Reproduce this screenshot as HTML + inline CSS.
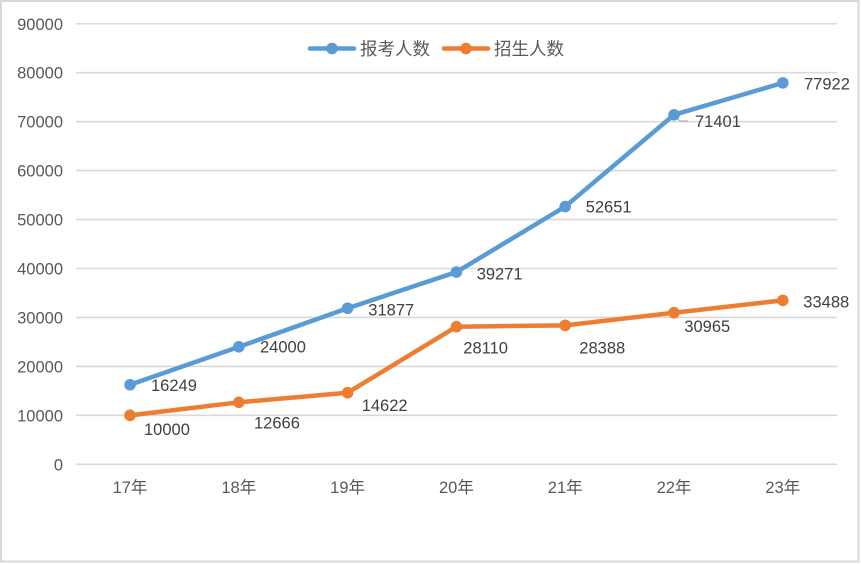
<!DOCTYPE html>
<html><head><meta charset="utf-8"><style>
html,body{margin:0;padding:0;background:#fff;}
svg{display:block;}
text{font-family:"Liberation Sans","Noto Sans CJK SC",sans-serif;}
</style></head><body>
<svg width="861" height="564" viewBox="0 0 861 564" xmlns="http://www.w3.org/2000/svg">
<rect x="0" y="0" width="861" height="564" fill="#fff"/>
<rect x="1" y="1" width="857.5" height="560.5" fill="none" stroke="#d9d9d9" stroke-width="2"/>
<g stroke="#d9d9d9" stroke-width="1.6">
<line x1="76" x2="837" y1="464.3" y2="464.3"/>
<line x1="76" x2="837" y1="415.35" y2="415.35"/>
<line x1="76" x2="837" y1="366.4" y2="366.4"/>
<line x1="76" x2="837" y1="317.45" y2="317.45"/>
<line x1="76" x2="837" y1="268.5" y2="268.5"/>
<line x1="76" x2="837" y1="219.55" y2="219.55"/>
<line x1="76" x2="837" y1="170.6" y2="170.6"/>
<line x1="76" x2="837" y1="121.65" y2="121.65"/>
<line x1="76" x2="837" y1="72.7" y2="72.7"/>
<line x1="76" x2="837" y1="23.75" y2="23.75"/>
</g>
<g fill="#595959" font-size="16.5" text-anchor="end">
<text x="63" y="470.3">0</text>
<text x="63" y="421.35">10000</text>
<text x="63" y="372.4">20000</text>
<text x="63" y="323.45">30000</text>
<text x="63" y="274.5">40000</text>
<text x="63" y="225.55">50000</text>
<text x="63" y="176.6">60000</text>
<text x="63" y="127.65">70000</text>
<text x="63" y="78.7">80000</text>
<text x="63" y="29.75">90000</text>
</g>
<g fill="#595959" font-size="16.5" text-anchor="middle">
<text x="130" y="493">17年</text>
<text x="238.8" y="493">18年</text>
<text x="347.6" y="493">19年</text>
<text x="456.4" y="493">20年</text>
<text x="565.2" y="493">21年</text>
<text x="674" y="493">22年</text>
<text x="782.8" y="493">23年</text>
</g>
<!-- legend -->
<line x1="310" y1="48.5" x2="354" y2="48.5" stroke="#5B9BD5" stroke-width="4.5" stroke-linecap="round"/>
<circle cx="332" cy="48.5" r="5.8" fill="#5B9BD5"/>
<text x="360" y="55" font-size="17.5" fill="#595959">报考人数</text>
<line x1="444" y1="48.5" x2="488" y2="48.5" stroke="#ED7D31" stroke-width="4.5" stroke-linecap="round"/>
<circle cx="466" cy="48.5" r="5.8" fill="#ED7D31"/>
<text x="494" y="55" font-size="17.5" fill="#595959">招生人数</text>
<!-- leader line -->
<polyline points="676,117 680,121 688,121" fill="none" stroke="#a6a6a6" stroke-width="1"/>
<!-- series -->
<polyline points="130,384.76 238.8,346.82 347.6,308.26 456.4,272.07 565.2,206.57 674,114.79 782.8,82.87" fill="none" stroke="#5B9BD5" stroke-width="4.5" stroke-linejoin="round" stroke-linecap="round"/>
<g fill="#5B9BD5">
<circle cx="130" cy="384.76" r="5.8"/>
<circle cx="238.8" cy="346.82" r="5.8"/>
<circle cx="347.6" cy="308.26" r="5.8"/>
<circle cx="456.4" cy="272.07" r="5.8"/>
<circle cx="565.2" cy="206.57" r="5.8"/>
<circle cx="674" cy="114.79" r="5.8"/>
<circle cx="782.8" cy="82.87" r="5.8"/>
</g>
<polyline points="130,415.35 238.8,402.3 347.6,392.73 456.4,326.7 565.2,325.34 674,312.73 782.8,300.38" fill="none" stroke="#ED7D31" stroke-width="4.5" stroke-linejoin="round" stroke-linecap="round"/>
<g fill="#ED7D31">
<circle cx="130" cy="415.35" r="5.8"/>
<circle cx="238.8" cy="402.3" r="5.8"/>
<circle cx="347.6" cy="392.73" r="5.8"/>
<circle cx="456.4" cy="326.7" r="5.8"/>
<circle cx="565.2" cy="325.34" r="5.8"/>
<circle cx="674" cy="312.73" r="5.8"/>
<circle cx="782.8" cy="300.38" r="5.8"/>
</g>
<!-- data labels -->
<g fill="#404040" font-size="16.5">
<text x="151" y="391">16249</text>
<text x="260" y="352.7">24000</text>
<text x="368.3" y="315.3">31877</text>
<text x="476.7" y="279.3">39271</text>
<text x="585.7" y="212.7">52651</text>
<text x="695" y="127">71401</text>
<text x="804" y="89.3">77922</text>
<text x="144" y="435">10000</text>
<text x="254" y="428.7">12666</text>
<text x="361.7" y="411">14622</text>
<text x="463.3" y="353.7">28110</text>
<text x="579.3" y="353.7">28388</text>
<text x="684.3" y="332">30965</text>
<text x="803.3" y="307.7">33488</text>
</g>
</svg>
</body></html>
